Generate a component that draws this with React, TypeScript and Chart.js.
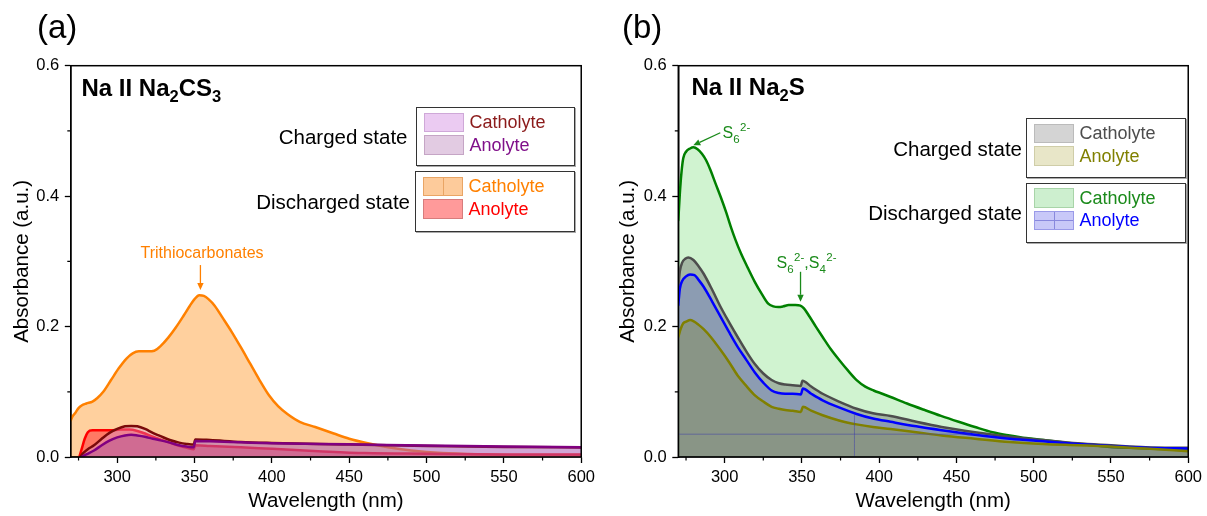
import React, { useEffect, useRef } from "react";
import { Chart, registerables } from "chart.js";

Chart.register(...registerables);

const FONT = '"Liberation Sans", Arial, Helvetica, sans-serif';

// ---------- axes ----------
const X_MIN = 270;
const X_MAX = 600;
const X_TICKS = [300, 350, 400, 450, 500, 550, 600];
const X_MINOR = [275, 325, 375, 425, 475, 525, 575];
const Y_MIN = 0;
const Y_MAX = 0.6;
const Y_TICKS = [0, 0.2, 0.4, 0.6];
const Y_MINOR = [0.1, 0.3, 0.5];

// ---------- panel (a): Na II Na2CS3 ----------
const A_DIS_CATH_NM = [270, 271, 273, 275, 277, 280, 284, 287, 291, 296, 301, 306, 310, 314, 320, 324, 328, 333, 338, 343, 347, 350, 353, 356, 359, 363, 368, 374, 380, 386, 392, 398, 404, 410, 418, 428, 440, 450, 462, 475, 490, 510, 540, 570, 600];
const A_DIS_CATH_ABS = [0.056, 0.062, 0.068, 0.075, 0.079, 0.082, 0.085, 0.09, 0.1, 0.118, 0.136, 0.151, 0.159, 0.162, 0.162, 0.163, 0.17, 0.183, 0.199, 0.217, 0.232, 0.242, 0.248, 0.247, 0.242, 0.232, 0.214, 0.192, 0.168, 0.143, 0.118, 0.095, 0.078, 0.066, 0.054, 0.046, 0.036, 0.028, 0.021, 0.015, 0.01, 0.006, 0.004, 0.003, 0.003];

const A_DIS_ANO_NM = [275.5, 277, 279, 281, 284, 290, 296, 302, 308, 313, 318, 323, 328, 334, 340, 345, 349.5, 350.5, 360, 380, 400, 430, 460, 500, 550, 600];
const A_DIS_ANO_ABS = [0, 0.012, 0.028, 0.038, 0.041, 0.041, 0.041, 0.042, 0.042, 0.04, 0.036, 0.031, 0.027, 0.022, 0.017, 0.014, 0.012, 0.018, 0.017, 0.015, 0.0125, 0.009, 0.006, 0.005, 0.004, 0.004];

const A_CHG_CATH_NM = [276, 278, 281, 285, 290, 295, 300, 305, 309, 313, 318, 323, 328, 334, 340, 345, 349.5, 350.5, 360, 380, 400, 450, 500, 550, 600];
const A_CHG_CATH_ABS = [0, 0.006, 0.012, 0.018, 0.028, 0.037, 0.043, 0.047, 0.0476, 0.047, 0.043, 0.037, 0.032, 0.026, 0.022, 0.02, 0.019, 0.027, 0.026, 0.023, 0.0215, 0.019, 0.017, 0.0155, 0.0145];

const A_CHG_ANO_NM = [277, 280, 285, 290, 295, 300, 305, 309, 313, 318, 323, 328, 334, 340, 345, 349.5, 350.5, 360, 380, 400, 450, 500, 550, 600];
const A_CHG_ANO_ABS = [0, 0.004, 0.01, 0.018, 0.025, 0.03, 0.033, 0.034, 0.033, 0.031, 0.028, 0.0255, 0.022, 0.018, 0.016, 0.015, 0.0245, 0.024, 0.0225, 0.021, 0.0194, 0.0175, 0.016, 0.015];

// ---------- panel (b): Na II Na2S ----------
const B_DIS_CATH_NM = [270, 271, 272, 273.2, 275, 277.6, 279.8, 282.5, 285.3, 288, 290.8, 294, 297.4, 301, 304, 307, 310.6, 315, 319.4, 324, 328.2, 331.5, 334.8, 338, 341.4, 345.8, 349, 351.3, 355, 359, 363.4, 368.5, 374.4, 380, 385.4, 391, 396.4, 402, 407.4, 418, 429.4, 440, 451.4, 462, 473.4, 484.5, 495, 506.5, 517, 528.5, 540, 550.5, 561, 572.5, 586, 600];
const B_DIS_CATH_ABS = [0.363, 0.404, 0.435, 0.458, 0.468, 0.473, 0.475, 0.472, 0.465, 0.455, 0.44, 0.42, 0.399, 0.375, 0.353, 0.333, 0.312, 0.29, 0.269, 0.25, 0.235, 0.231, 0.23, 0.231, 0.233, 0.233, 0.232, 0.228, 0.215, 0.2, 0.184, 0.166, 0.148, 0.132, 0.118, 0.108, 0.102, 0.097, 0.092, 0.082, 0.072, 0.063, 0.054, 0.046, 0.038, 0.033, 0.029, 0.026, 0.023, 0.02, 0.0175, 0.015, 0.014, 0.013, 0.012, 0.011];

const B_CHG_CATH_NM = [270, 271, 272.5, 274.5, 276.5, 279.8, 283, 286.4, 292, 297.4, 303, 308.4, 314, 319.4, 325, 330.4, 335, 339.2, 344, 349.3, 350.3, 356, 363.4, 374, 385.4, 396, 407.4, 424, 440.4, 462, 484.5, 506, 528.5, 550, 572.5, 600];
const B_CHG_CATH_ABS = [0.261, 0.285, 0.298, 0.304, 0.306, 0.302, 0.293, 0.281, 0.256, 0.23, 0.206, 0.184, 0.162, 0.143, 0.128, 0.118, 0.113, 0.111, 0.11, 0.109, 0.117, 0.108, 0.097, 0.085, 0.074, 0.067, 0.063, 0.054, 0.046, 0.038, 0.031, 0.026, 0.021, 0.018, 0.015, 0.014];

const B_DIS_ANO_NM = [270, 271, 272.5, 275, 277.6, 280.5, 283, 286.4, 292, 297.4, 303, 308.4, 314, 319.4, 325, 330.4, 335, 339.2, 344, 349.3, 350.6, 356, 363.4, 374, 385.4, 396, 407.4, 424, 440.4, 462, 484.5, 506, 528.5, 550, 572.5, 600];
const B_DIS_ANO_ABS = [0.233, 0.258, 0.27, 0.277, 0.28, 0.279, 0.272, 0.261, 0.238, 0.215, 0.191, 0.169, 0.149, 0.13, 0.114, 0.102, 0.098, 0.097, 0.097, 0.096, 0.105, 0.097, 0.087, 0.076, 0.066, 0.059, 0.054, 0.047, 0.041, 0.034, 0.028, 0.024, 0.02, 0.017, 0.014, 0.013];

const B_CHG_ANO_NM = [270, 271.5, 273.2, 275.5, 277.6, 280, 283, 286.4, 291, 297.4, 303, 308.4, 314, 319.4, 325, 330.4, 335, 339.2, 344, 349.3, 350.6, 356, 363.4, 374, 385.4, 396, 407.4, 424, 440.4, 462, 484.5, 506, 528.5, 550, 572.5, 600];
const B_CHG_ANO_ABS = [0.184, 0.196, 0.205, 0.208, 0.21, 0.208, 0.203, 0.196, 0.184, 0.164, 0.145, 0.125, 0.109, 0.095, 0.085, 0.077, 0.074, 0.072, 0.071, 0.069, 0.077, 0.071, 0.064, 0.056, 0.05, 0.046, 0.043, 0.038, 0.033, 0.028, 0.023, 0.02, 0.018, 0.016, 0.013, 0.009];

// thin pattern lines of the anolyte fill visible in panel (b)
const B_GUIDE_H_NM = [270, 459];
const B_GUIDE_H_ABS = [0.035, 0.035];
const B_GUIDE_V_NM = [384, 384];
const B_GUIDE_V_ABS = [0, 0.066];

// annotation arrows: tip anchored at a data point, tail offset in px
const A_ARROWS = [{ nm: 353.8, abs: 0.256, dx: 0, dy: -25, color: "#FF8000" }];
const B_ARROWS = [
  { nm: 279.7, abs: 0.478, dx: 27, dy: -12.5, color: "#1A8A1A" },
  { nm: 349.1, abs: 0.238, dx: 0, dy: -30, color: "#1A8A1A" },
];

const pts = (xs: number[], ys: number[]) => xs.map((x, i) => ({ x, y: ys[i] }));

const series = (xs: number[], ys: number[], line: string, fillColor: string | null, width = 2.5) => ({
  data: pts(xs, ys),
  borderColor: line,
  backgroundColor: fillColor || "transparent",
  fill: fillColor ? "origin" : false,
  borderWidth: width,
  pointRadius: 0,
  cubicInterpolationMode: "monotone",
  borderJoinStyle: "round",
  borderCapStyle: "round",
});

const decorPlugin = (arrows: any[]) => ({
  id: "decor",
  afterDraw(chart: any) {
    const { ctx, chartArea: ca, scales } = chart;
    const x = scales.x;
    const y = scales.y;
    ctx.save();
    ctx.strokeStyle = "#000";
    ctx.lineWidth = 1.5;
    ctx.strokeRect(ca.left, ca.top, ca.right - ca.left, ca.bottom - ca.top);
    ctx.lineWidth = 1.2;
    ctx.beginPath();
    X_MINOR.forEach((v) => {
      const px = x.getPixelForValue(v);
      ctx.moveTo(px, ca.bottom);
      ctx.lineTo(px, ca.bottom + 3.5);
    });
    Y_MINOR.forEach((v) => {
      const py = y.getPixelForValue(v);
      ctx.moveTo(ca.left, py);
      ctx.lineTo(ca.left - 3.5, py);
    });
    ctx.stroke();
    arrows.forEach((a) => {
      const tx = x.getPixelForValue(a.nm);
      const ty = y.getPixelForValue(a.abs);
      const fx = tx + a.dx;
      const fy = ty + a.dy;
      const ang = Math.atan2(ty - fy, tx - fx);
      const hl = 7;
      const hw = 3.2;
      const bx = tx - hl * Math.cos(ang);
      const by = ty - hl * Math.sin(ang);
      ctx.strokeStyle = a.color;
      ctx.fillStyle = a.color;
      ctx.lineWidth = 1.3;
      ctx.beginPath();
      ctx.moveTo(fx, fy);
      ctx.lineTo(bx, by);
      ctx.stroke();
      ctx.beginPath();
      ctx.moveTo(tx, ty);
      ctx.lineTo(bx - hw * Math.sin(ang), by + hw * Math.cos(ang));
      ctx.lineTo(bx + hw * Math.sin(ang), by - hw * Math.cos(ang));
      ctx.closePath();
      ctx.fill();
    });
    ctx.restore();
  },
});

function buildConfig(datasets: any[], yWidth: number, padRight: number, yTitlePad: number, arrows: any[]) {
  return {
    type: "line",
    data: { datasets },
    options: {
      responsive: false,
      maintainAspectRatio: false,
      animation: false,
      events: [],
      layout: { padding: { left: 0, right: padRight, top: 65.7, bottom: 0 } },
      plugins: { legend: { display: false }, tooltip: { enabled: false } },
      scales: {
        x: {
          type: "linear",
          min: X_MIN,
          max: X_MAX,
          afterBuildTicks: (s: any) => {
            s.ticks = X_TICKS.map((v) => ({ value: v }));
          },
          afterFit: (s: any) => {
            s.height = 59;
          },
          grid: { display: true, drawOnChartArea: false, drawTicks: true, tickLength: 6, tickWidth: 1.3, tickColor: "#000" },
          border: { display: true, color: "#000", width: 1.5 },
          ticks: { color: "#000", font: { family: FONT, size: 16.5 }, padding: 5, maxRotation: 0, autoSkip: false, callback: (v: any) => String(v) },
          title: { display: true, text: "Wavelength (nm)", color: "#000", font: { family: FONT, size: 20.5 }, padding: { top: 0, bottom: 2.5 } },
        },
        y: {
          type: "linear",
          min: Y_MIN,
          max: Y_MAX,
          afterBuildTicks: (s: any) => {
            s.ticks = Y_TICKS.map((v) => ({ value: v }));
          },
          afterFit: (s: any) => {
            s.width = yWidth;
          },
          grid: { display: true, drawOnChartArea: false, drawTicks: true, tickLength: 6, tickWidth: 1.3, tickColor: "#000" },
          border: { display: true, color: "#000", width: 1.5 },
          ticks: { color: "#000", font: { family: FONT, size: 16.5 }, padding: 5.5, autoSkip: false, callback: (v: any) => Number(v).toFixed(1) },
          title: { display: true, text: "Absorbance (a.u.)", color: "#000", font: { family: FONT, size: 20.5 }, padding: { top: yTitlePad, bottom: 0 } },
        },
      },
    },
    plugins: [decorPlugin(arrows)],
  };
}

function ChartCanvas({ left, width, makeConfig }: { left: number; width: number; makeConfig: () => any }) {
  const ref = useRef<HTMLCanvasElement>(null);
  useEffect(() => {
    const chart = new Chart(ref.current as HTMLCanvasElement, makeConfig() as any);
    return () => chart.destroy();
  }, []);
  return (
    <canvas
      ref={ref}
      width={width}
      height={516}
      style={{ position: "absolute", left, top: 0, width, height: 516 }}
    />
  );
}

const configA = () =>
  buildConfig(
    [
      series(A_CHG_ANO_NM, A_CHG_ANO_ABS, "#800080", "rgba(150,60,150,0.33)"),
      series(A_CHG_CATH_NM, A_CHG_CATH_ABS, "#7A0A0A", "rgba(205,150,230,0.35)"),
      series(A_DIS_ANO_NM, A_DIS_ANO_ABS, "#FF0000", "rgba(255,0,20,0.42)"),
      series(A_DIS_CATH_NM, A_DIS_CATH_ABS, "#FF8000", "rgba(255,150,40,0.45)"),
    ],
    70.8,
    17.4,
    9.7,
    A_ARROWS
  );

const configB = () =>
  buildConfig(
    [
      series(B_GUIDE_H_NM, B_GUIDE_H_ABS, "rgba(60,60,170,0.5)", null, 1),
      series(B_GUIDE_V_NM, B_GUIDE_V_ABS, "rgba(60,60,170,0.5)", null, 1),
      series(B_CHG_ANO_NM, B_CHG_ANO_ABS, "#808000", "rgba(128,128,0,0.25)"),
      series(B_DIS_ANO_NM, B_DIS_ANO_ABS, "#0000FF", "rgba(0,0,255,0.15)"),
      series(B_CHG_CATH_NM, B_CHG_CATH_ABS, "#4D4D4D", "rgba(110,110,110,0.45)"),
      series(B_DIS_CATH_NM, B_DIS_CATH_ABS, "#008000", "rgba(120,220,120,0.35)"),
    ],
    72.3,
    17,
    9.7,
    B_ARROWS
  );

type Item = { text: string; color: string; fill: string; border: string; cross?: "v" | "hv"; crossColor?: string };

function LegendGroup({ label, labelRight, left, top, width, height, items }: { label: string; labelRight: number; left: number; top: number; width: number; height: number; items: Item[] }) {
  return (
    <>
      <div
        style={{
          position: "absolute",
          left: labelRight - 220,
          width: 220,
          textAlign: "right",
          top: top + height / 2 - 10.5,
          fontSize: 20.5,
          lineHeight: "21px",
          color: "#000",
          whiteSpace: "nowrap",
        }}
      >
        {label}
      </div>
      <div
        style={{
          position: "absolute",
          left,
          top,
          width,
          height,
          boxSizing: "border-box",
          border: "1.5px solid #333",
          boxShadow: "1px 1px 0 #aaa",
        }}
      >
        {items.map((it, i) => (
          <React.Fragment key={i}>
            <div
              style={{
                position: "absolute",
                left: 7,
                top: 4.5 + i * 22.5,
                width: 40,
                height: 19.5,
                boxSizing: "border-box",
                background: it.fill,
                border: `1px solid ${it.border}`,
              }}
            >
              {it.cross && (
                <div style={{ position: "absolute", left: 19, top: 0, width: 1, height: "100%", background: it.crossColor }} />
              )}
              {it.cross === "hv" && (
                <div style={{ position: "absolute", left: 0, top: 8.5, width: "100%", height: 1, background: it.crossColor }} />
              )}
            </div>
            <div
              style={{
                position: "absolute",
                left: 52.5,
                top: 5 + i * 22.5,
                fontSize: 18,
                lineHeight: "18px",
                color: it.color,
                whiteSpace: "nowrap",
              }}
            >
              {it.text}
            </div>
          </React.Fragment>
        ))}
      </div>
    </>
  );
}

const subStyle: React.CSSProperties = { fontSize: 16.5, position: "relative", top: 6 };
const annSub: React.CSSProperties = { fontSize: 11.5, position: "relative", top: 4.5 };
const annSup: React.CSSProperties = { fontSize: 11.5, position: "relative", top: -7, marginLeft: 0.5 };

export default function App() {
  return (
    <div
      style={{
        position: "absolute",
        left: 0,
        top: 0,
        width: 1207,
        height: 516,
        background: "#fff",
        fontFamily: FONT,
        overflow: "hidden",
      }}
    >
      <ChartCanvas left={0} width={600} makeConfig={configA} />
      <ChartCanvas left={606} width={601} makeConfig={configB} />

      {/* panel letters */}
      <div style={{ position: "absolute", left: 37, top: 10, fontSize: 33, lineHeight: "33px", color: "#000" }}>(a)</div>
      <div style={{ position: "absolute", left: 622, top: 10, fontSize: 33, lineHeight: "33px", color: "#000" }}>(b)</div>

      {/* titles */}
      <div style={{ position: "absolute", left: 81.5, top: 75.5, fontSize: 24, lineHeight: "24px", fontWeight: "bold", color: "#000", whiteSpace: "nowrap" }}>
        Na II Na<span style={subStyle}>2</span>CS<span style={subStyle}>3</span>
      </div>
      <div style={{ position: "absolute", left: 691.5, top: 75, fontSize: 24, lineHeight: "24px", fontWeight: "bold", color: "#000", whiteSpace: "nowrap" }}>
        Na II Na<span style={subStyle}>2</span>S
      </div>

      {/* legends (a) */}
      <LegendGroup
        label="Charged state"
        labelRight={407.5}
        left={416}
        top={107}
        width={159}
        height={59}
        items={[
          { text: "Catholyte", color: "#8B1A1A", fill: "#EBCBF2", border: "#CFA8D8" },
          { text: "Anolyte", color: "#80108A", fill: "#E2CBE2", border: "#C5A5C5" },
        ]}
      />
      <LegendGroup
        label="Discharged state"
        labelRight={410}
        left={415}
        top={171}
        width={160}
        height={61}
        items={[
          { text: "Catholyte", color: "#FF8000", fill: "#FDCB9B", border: "#E9A565", cross: "v", crossColor: "#E9A565" },
          { text: "Anolyte", color: "#FF0000", fill: "#FF9A9A", border: "#D77C7C" },
        ]}
      />

      {/* legends (b) */}
      <LegendGroup
        label="Charged state"
        labelRight={1022}
        left={1026}
        top={118}
        width={159.5}
        height={60}
        items={[
          { text: "Catholyte", color: "#4D4D4D", fill: "#D4D4D4", border: "#BBBBBB" },
          { text: "Anolyte", color: "#808000", fill: "#E8E6C8", border: "#CFCDA8" },
        ]}
      />
      <LegendGroup
        label="Discharged state"
        labelRight={1022}
        left={1026}
        top={182.5}
        width={160}
        height={60}
        items={[
          { text: "Catholyte", color: "#1A8A1A", fill: "#CDEFCF", border: "#A8D4A8" },
          { text: "Anolyte", color: "#0000FF", fill: "#C8C8F8", border: "#9A9AE8", cross: "hv", crossColor: "#8888DD" },
        ]}
      />

      {/* annotations */}
      <div style={{ position: "absolute", left: 140.5, top: 245, fontSize: 16, lineHeight: "16px", color: "#FF8000", whiteSpace: "nowrap" }}>
        Trithiocarbonates
      </div>
      <div style={{ position: "absolute", left: 722.5, top: 125, fontSize: 16, lineHeight: "16px", color: "#1A8A1A", whiteSpace: "nowrap" }}>
        S<span style={annSub}>6</span>
        <span style={annSup}>2-</span>
      </div>
      <div style={{ position: "absolute", left: 776.5, top: 255, fontSize: 16, lineHeight: "16px", color: "#1A8A1A", whiteSpace: "nowrap" }}>
        S<span style={annSub}>6</span>
        <span style={annSup}>2-</span>,S<span style={annSub}>4</span>
        <span style={annSup}>2-</span>
      </div>
    </div>
  );
}
